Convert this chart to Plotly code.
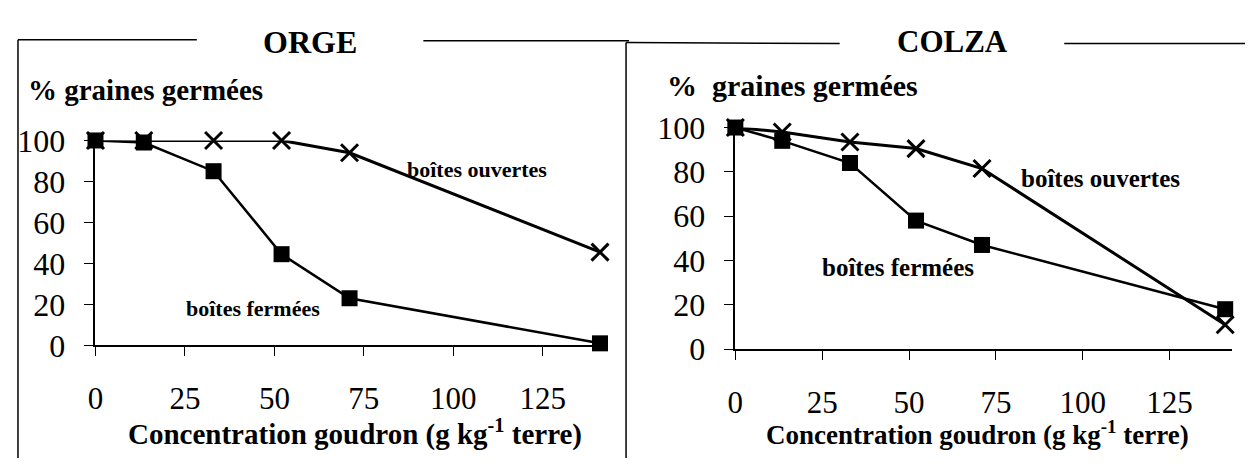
import plotly.graph_objects as go

# ---------------- data ----------------
concentration = [0, 13.5, 33, 52, 71, 141]
orge_fermees = [100, 99, 85, 44.5, 23, 1]
orge_ouvertes = [100, 100, 100, 100, 94, 45.5]
colza_fermees = [100, 94, 84, 58, 47, 18]
colza_ouvertes = [100, 98, 93.5, 90.5, 81.5, 11]
x_ticks = [0, 25, 50, 75, 100, 125]
y_ticks = [0, 20, 40, 60, 80, 100]
panel_titles = ["ORGE", "COLZA"]
y_title = ["% graines germées", "%  graines germées"]
x_title = "Concentration goudron (g kg<sup>-1</sup> terre)"

# the page body has an 8px margin: the figure is sized and positioned to compensate
OFF = 8
W, H = 1253 - OFF, 476 - OFF
FONT = "Liberation Serif"


def px(x):
    return (x - OFF) / W


def py(y):
    return 1 - (y - OFF) / H


fig = go.Figure()

# ORGE (left)
fig.add_trace(go.Scatter(x=concentration, y=orge_ouvertes, mode="lines+markers",
                         line=dict(color="black", width=3),
                         marker=dict(symbol="x-thin", size=17, line=dict(width=3, color="black")),
                         cliponaxis=False, xaxis="x", yaxis="y", showlegend=False))
fig.add_trace(go.Scatter(x=concentration, y=orge_fermees, mode="lines+markers",
                         line=dict(color="black", width=2.5),
                         marker=dict(symbol="square", size=16, color="black"),
                         cliponaxis=False, xaxis="x", yaxis="y", showlegend=False))
# COLZA (right)
fig.add_trace(go.Scatter(x=concentration, y=colza_ouvertes, mode="lines+markers",
                         line=dict(color="black", width=3),
                         marker=dict(symbol="x-thin", size=17, line=dict(width=3, color="black")),
                         cliponaxis=False, xaxis="x2", yaxis="y2", showlegend=False))
fig.add_trace(go.Scatter(x=concentration, y=colza_fermees, mode="lines+markers",
                         line=dict(color="black", width=2.5),
                         marker=dict(symbol="square", size=16, color="black"),
                         cliponaxis=False, xaxis="x2", yaxis="y2", showlegend=False))

common_x = dict(range=[0, 143], tickvals=x_ticks, showline=True, linecolor="black", linewidth=1.5,
                ticks="outside", ticklen=9, tickwidth=1, tickcolor="black",
                tickfont=dict(family=FONT, size=31, color="black"), ticklabelstandoff=16,
                showgrid=False, zeroline=False)
common_y = dict(range=[0, 100], tickvals=y_ticks, showline=True, linecolor="black", linewidth=1.5,
                ticks="outside", ticklen=10, tickwidth=1, tickcolor="black",
                tickfont=dict(family=FONT, size=32, color="black"), ticklabelstandoff=12,
                showgrid=False, zeroline=False)

fig.update_layout(
    width=W, height=H,
    margin=dict(l=0, r=0, t=0, b=0),
    paper_bgcolor="white", plot_bgcolor="white",
    xaxis=dict(domain=[px(88), px(603)], anchor="y", **common_x),
    yaxis=dict(domain=[py(354), py(132)], anchor="x", **common_y),
    xaxis2=dict(domain=[px(732), px(1232)], anchor="y2", **common_x),
    yaxis2=dict(domain=[py(358), py(118)], anchor="x2", **common_y),
)

ann = []
# panel titles
ann.append(dict(x=px(304), y=py(25), xref="paper", yref="paper", text="<b>%s</b>" % panel_titles[0],
                showarrow=False, font=dict(family=FONT, size=32, color="black"), xanchor="center", yanchor="middle"))
ann.append(dict(x=px(951), y=py(25), xref="paper", yref="paper", text="<b>%s</b>" % panel_titles[1],
                showarrow=False, font=dict(family=FONT, size=31, color="black"), xanchor="center", yanchor="middle"))
# y titles
ann.append(dict(x=px(18), y=py(77), xref="paper", yref="paper", text="<b>%s</b>" % y_title[0],
                showarrow=False, font=dict(family=FONT, size=29, color="black"), xanchor="left", yanchor="middle"))
ann.append(dict(x=px(661), y=py(73), xref="paper", yref="paper", text="<b>%s</b>" % y_title[1],
                showarrow=False, font=dict(family=FONT, size=30, color="black"), xanchor="left", yanchor="middle"))
# x titles
ann.append(dict(x=px(349), y=py(448), xref="paper", yref="paper", text="<b>%s</b>" % x_title,
                showarrow=False, font=dict(family=FONT, size=29, color="black"), xanchor="center", yanchor="middle"))
ann.append(dict(x=px(976), y=py(449), xref="paper", yref="paper", text="<b>%s</b>" % x_title,
                showarrow=False, font=dict(family=FONT, size=27, color="black"), xanchor="center", yanchor="middle"))
# series labels
ann.append(dict(x=86.5, y=86, xref="x", yref="y", text="<b>boîtes ouvertes</b>", showarrow=False,
                font=dict(family=FONT, size=22, color="black"), xanchor="left", yanchor="middle"))
ann.append(dict(x=24.6, y=18, xref="x", yref="y", text="<b>boîtes fermées</b>", showarrow=False,
                font=dict(family=FONT, size=22, color="black"), xanchor="left", yanchor="middle"))
ann.append(dict(x=81.7, y=77, xref="x2", yref="y2", text="<b>boîtes ouvertes</b>", showarrow=False,
                font=dict(family=FONT, size=25, color="black"), xanchor="left", yanchor="middle"))
ann.append(dict(x=24.5, y=36.7, xref="x2", yref="y2", text="<b>boîtes fermées</b>", showarrow=False,
                font=dict(family=FONT, size=25, color="black"), xanchor="left", yanchor="middle"))
fig.update_layout(annotations=ann)

# frame lines
segs = [
    ((10, 23), (10, 476)),
    ((10, 23), (190, 23)),
    ((418, 24), (625, 24)),
    ((622, 26), (622, 476)),
    ((622, 26), (837, 27)),
    ((1063, 27), (1253, 27)),
]
shapes = []
for (x0, y0), (x1, y1) in segs:
    shapes.append(dict(type="line", xref="paper", yref="paper", x0=px(x0), y0=py(y0), x1=px(x1), y1=py(y1),
                       line=dict(color="black", width=1.5)))
fig.update_layout(shapes=shapes)

fig.write_html("out.html")
